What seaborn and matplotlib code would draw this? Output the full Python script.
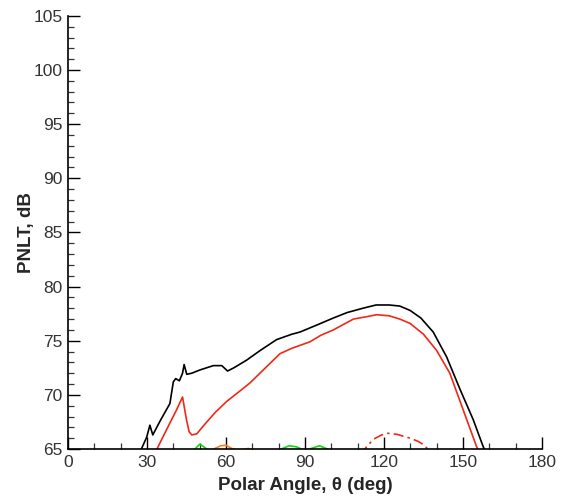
import numpy as np
import pandas as pd
import matplotlib
matplotlib.use('Agg')
import matplotlib.pyplot as plt
import seaborn as sns
from matplotlib.ticker import MultipleLocator

# total (black)
total_deg = [27.5, 29.9, 31.1, 32.2, 35.0, 38.7, 40.0, 40.9, 42.3, 43.5, 44.1, 45.1, 47.0, 50.1,
             55.2, 58.4, 60.6, 63.0, 67.8, 73.0, 79.2, 85.0, 88.1, 95.0, 100.8, 106.0, 112.0,
             117.0, 122.0, 126.0, 129.9, 134.0, 138.7, 143.8, 148.9, 153.9, 157.7, 159.0]
total_db = [64.8, 66.1, 67.2, 66.3, 67.6, 69.2, 71.2, 71.5, 71.3, 72.0, 72.8, 71.9, 72.0, 72.3,
            72.7, 72.7, 72.2, 72.5, 73.2, 74.1, 75.1, 75.6, 75.8, 76.5, 77.1, 77.6, 78.0,
            78.3, 78.3, 78.2, 77.8, 77.1, 75.8, 73.5, 70.5, 67.7, 65.2, 64.5]

# jet mixing (red solid)
jet_deg = [33.0, 35.0, 38.7, 41.0, 43.5, 45.0, 46.0, 47.0, 48.9, 52.0, 56.0, 60.3, 65.0, 69.1,
           75.0, 80.5, 85.0, 91.9, 96.0, 100.8, 108.4, 113.0, 117.2, 122.0, 126.0, 129.9,
           135.0, 140.0, 145.0, 150.1, 155.2, 157.0]
jet_db = [64.6, 65.6, 67.4, 68.5, 69.8, 67.7, 66.6, 66.3, 66.4, 67.3, 68.4, 69.4, 70.3, 71.1,
          72.5, 73.8, 74.3, 74.9, 75.5, 76.0, 77.0, 77.2, 77.4, 77.3, 77.0, 76.6,
          75.6, 74.1, 72.0, 68.6, 65.2, 64.3]

# shock noise (red dash-dot)
shock_deg = [111.0, 113.4, 116.0, 119.1, 121.6, 125.0, 129.9, 133.0, 135.0, 137.0]
shock_db = [64.5, 65.2, 65.9, 66.3, 66.45, 66.35, 66.0, 65.7, 65.4, 64.9]

# green component
green_deg = [42.0, 46.0, 48.2, 50.1, 52.7, 55.0, 60.0, 70.0, 77.0, 81.0, 84.0, 86.8, 89.0,
             91.0, 93.0, 95.5, 98.0, 100.0, 105.0]
green_db = [63.8, 64.6, 65.0, 65.45, 65.0, 64.5, 63.9, 63.9, 64.6, 65.0, 65.3, 65.2, 64.95,
            64.95, 65.1, 65.3, 65.05, 64.8, 64.2]

# orange component
orange_deg = [52.0, 55.8, 58.0, 60.0, 62.2, 64.0, 66.5, 68.5, 70.0, 73.0]
orange_db = [64.5, 65.05, 65.3, 65.35, 65.05, 64.9, 64.95, 65.05, 64.9, 64.5]

series = [
    (total_deg, total_db, 'black', '-'),
    (jet_deg, jet_db, '#f02818', '-'),
    (shock_deg, shock_db, '#f02818', (0, (6, 2.5, 1.5, 2.5))),
    (green_deg, green_db, '#18d018', '-'),
    (orange_deg, orange_db, '#f88020', '-'),
]

sns.set_style('ticks')
plt.rcParams['font.family'] = ['Liberation Sans', 'DejaVu Sans']

fig = plt.figure(figsize=(5.69, 4.99), dpi=100)
ax = fig.add_axes([0.1195, 0.1002, 0.833, 0.868])

for xs, ys, col, ls in series:
    df = pd.DataFrame({'deg': xs, 'db': ys})
    sns.lineplot(data=df, x='deg', y='db', color=col, linestyle=ls, linewidth=1.2,
                 sort=False, ax=ax)

ax.set_xlim(0, 180)
ax.set_ylim(65, 105)
ax.xaxis.set_major_locator(MultipleLocator(30))
ax.xaxis.set_minor_locator(MultipleLocator(10))
ax.yaxis.set_major_locator(MultipleLocator(5))
ax.yaxis.set_minor_locator(MultipleLocator(1))
ax.tick_params(which='major', direction='in', length=8.5, width=1, labelsize=12.5,
               colors='black', pad=4)
ax.tick_params(which='minor', direction='in', length=4.5, width=0.9, colors='#333333')
ax.tick_params(axis='both', which='major', labelcolor='#333333')

for s in ['top', 'right']:
    ax.spines[s].set_visible(False)
for s in ['left', 'bottom']:
    ax.spines[s].set_color('black')
    ax.spines[s].set_linewidth(1.2)

ax.set_xlabel('Polar Angle, θ (deg)', fontsize=13.5, fontweight='bold', labelpad=5)
ax.set_ylabel('PNLT, dB', fontsize=13.5, fontweight='bold', labelpad=-1)

fig.savefig('out.png', dpi=100)
